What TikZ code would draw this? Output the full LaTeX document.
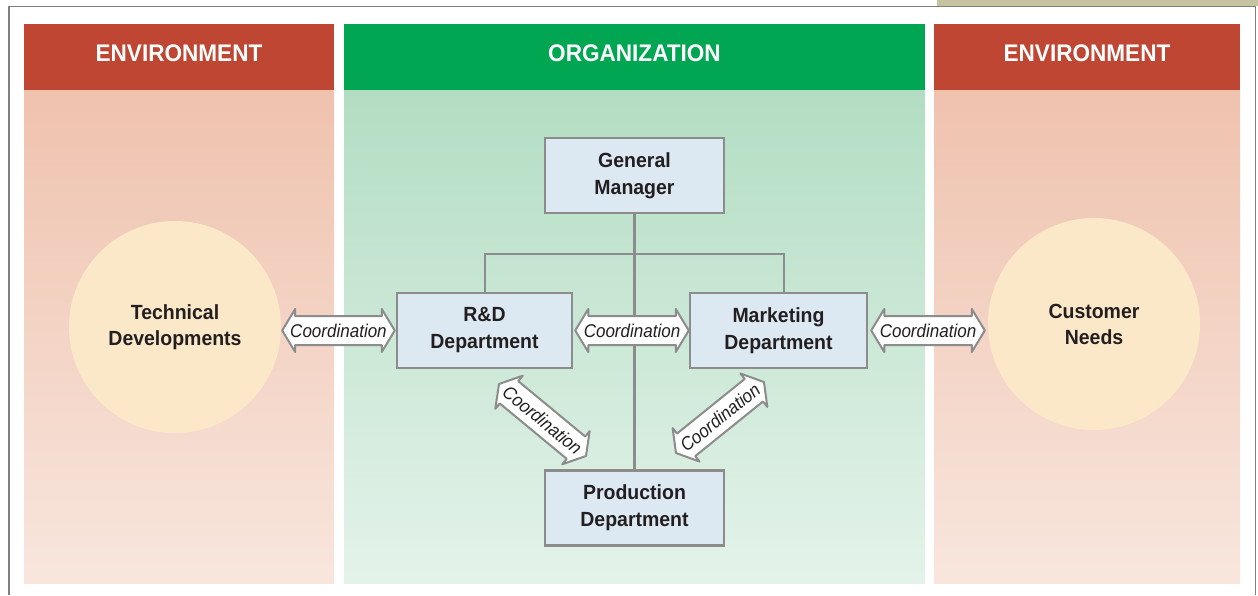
\documentclass[tikz,border=0pt]{standalone}
\usepackage{fontspec}
\setmainfont{Liberation Sans}
\newfontfamily\hdrfont[FakeStretch=0.94]{Liberation Sans}
\newfontfamily\bodyfont[FakeStretch=0.95]{Liberation Sans}
\newfontfamily\coordfont[FakeStretch=0.92]{Liberation Sans}
\usetikzlibrary{calc}
\definecolor{envred}{HTML}{BF4632}
\definecolor{orggreen}{HTML}{00A651}
\definecolor{envtop}{HTML}{EFC2AE}
\definecolor{envbot}{HTML}{F8E6DD}
\definecolor{orgtop}{HTML}{B3DDC3}
\definecolor{orgbot}{HTML}{E4F3EA}
\definecolor{circfill}{HTML}{FBE8C9}
\definecolor{boxfill}{HTML}{DCE8F2}
\definecolor{linegray}{HTML}{8C8C8C}
\definecolor{framegray}{HTML}{808080}
\definecolor{tanbar}{HTML}{C5C3A0}
\definecolor{ink}{HTML}{231F20}
\newcommand\coordarrow[3]{%
  \pgfpointdiff{\pgfpointanchor{#1}{center}}{\pgfpointanchor{#2}{center}}%
  \pgfgetlastxy{\cadx}{\cady}%
  \pgfmathsetmacro\caang{atan2(\cady,\cadx)}%
  \pgfmathsetmacro\calen{veclen(\cadx,\cady)}%
  \begin{scope}[shift={(#1)}, rotate=\caang]
    \draw[arrowbody] (0,0) -- (13,-21.5) -- (13,-14.5) -- (\calen-13,-14.5)
      -- (\calen-13,-21.5) -- (\calen,0) -- (\calen-13,21.5) -- (\calen-13,14.5)
      -- (13,14.5) -- (13,21.5) -- cycle;
    \node[arrowlabel, transform shape] (#3) at (\calen/2,0) {Coordination};
  \end{scope}}
\begin{document}
\begin{tikzpicture}[x=1pt,y=-1pt,
  hdrbox/.style={minimum height=66pt, inner sep=0pt},
  hdrtext/.style={text=white, font=\hdrfont\bfseries\fontsize{24}{28}\selectfont, inner sep=0pt},
  circ/.style={circle, fill=circfill, minimum size=212pt, inner sep=0pt, align=center,
    text=ink, font=\bodyfont\bfseries\fontsize{20.5}{26}\selectfont},
  dept/.style={rectangle, draw=linegray, line width=2.5pt, fill=boxfill, minimum height=75pt,
    inner sep=0pt, align=center, text=ink, font=\bodyfont\bfseries\fontsize{20.5}{27}\selectfont},
  tree/.style={draw=linegray, line width=2.5pt},
  arrowbody/.style={draw=linegray, fill=white, line width=2pt, line join=round},
  arrowlabel/.style={inner sep=0pt, text=ink, font=\coordfont\itshape\fontsize{18.5}{20}\selectfont}]
\useasboundingbox (0,0) rectangle (1258,595);
\fill[white] (0,0) rectangle (1258,595);
\fill[tanbar] (937,0) rectangle (1258,5.5);
\draw[framegray, line width=1.8pt] (9,595) -- (9,6.5) -- (1255.5,6.5) -- (1255.5,595);
% panel bodies
\shade[top color=envtop, bottom color=envbot] (24,90) rectangle (334,583);
\shade[top color=orgtop, bottom color=orgbot] (344,90) rectangle (925,583);
\shade[top color=envtop, bottom color=envbot] (934,90) rectangle (1240,583);
% headers
\node[hdrbox, fill=envred, minimum width=310pt] (envL) at (179,57) {};
\node[hdrbox, fill=orggreen, minimum width=581pt] (org) at (634.5,57) {};
\node[hdrbox, fill=envred, minimum width=306pt] (envR) at (1087,57) {};
\node[hdrtext] (envLt) at ([yshift=4pt]envL.center) {ENVIRONMENT};
\node[hdrtext] (orgt) at ([yshift=4pt]org.center) {ORGANIZATION};
\node[hdrtext] (envRt) at ([yshift=4pt]envR.center) {ENVIRONMENT};
% circles
\node[circ] (tech) at (175,327) {Technical\\Developments};
\node[circ] (cust) at (1094,324) {Customer\\Needs};
% departments
\node[dept, minimum width=179pt] (gm) at (634.5,175.5) {General\\Manager};
\node[dept, minimum width=175pt] (rd) at (484.5,330.5) {R\&D\\Department};
\node[dept, minimum width=177pt] (mk) at (778.5,330.5) {Marketing\\Department};
\node[dept, minimum width=179pt] (prod) at (634.5,508) {Production\\Department};
% tree
\coordinate (bus) at (634.5,254);
\draw[tree] (gm.south) -- (prod.north);
\draw[tree] ([xshift=0.5pt]rd.north) |- (bus) -| ([xshift=5.5pt]mk.north);
% coordination arrows
\coordinate (h1s) at ([xshift=1pt]tech.east |- rd.west);
\coordinate (h1e) at ([xshift=-1pt]rd.west);
\coordinate (h2s) at ([xshift=2pt]rd.east);
\coordinate (h2e) at (mk.west);
\coordinate (h3s) at ([xshift=3pt]mk.east);
\coordinate (h3e) at ([xshift=-3pt]cust.west |- mk.east);
\coordinate (d1s) at (499,384);
\coordinate (d1e) at (586,456);
\coordinate (d2s) at (676,453);
\coordinate (d2e) at (764,382);
\coordarrow{h1s}{h1e}{c1}
\coordarrow{h2s}{h2e}{c2}
\coordarrow{h3s}{h3e}{c3}
\coordarrow{d1s}{d1e}{c4}
\coordarrow{d2s}{d2e}{c5}
\end{tikzpicture}
\end{document}
